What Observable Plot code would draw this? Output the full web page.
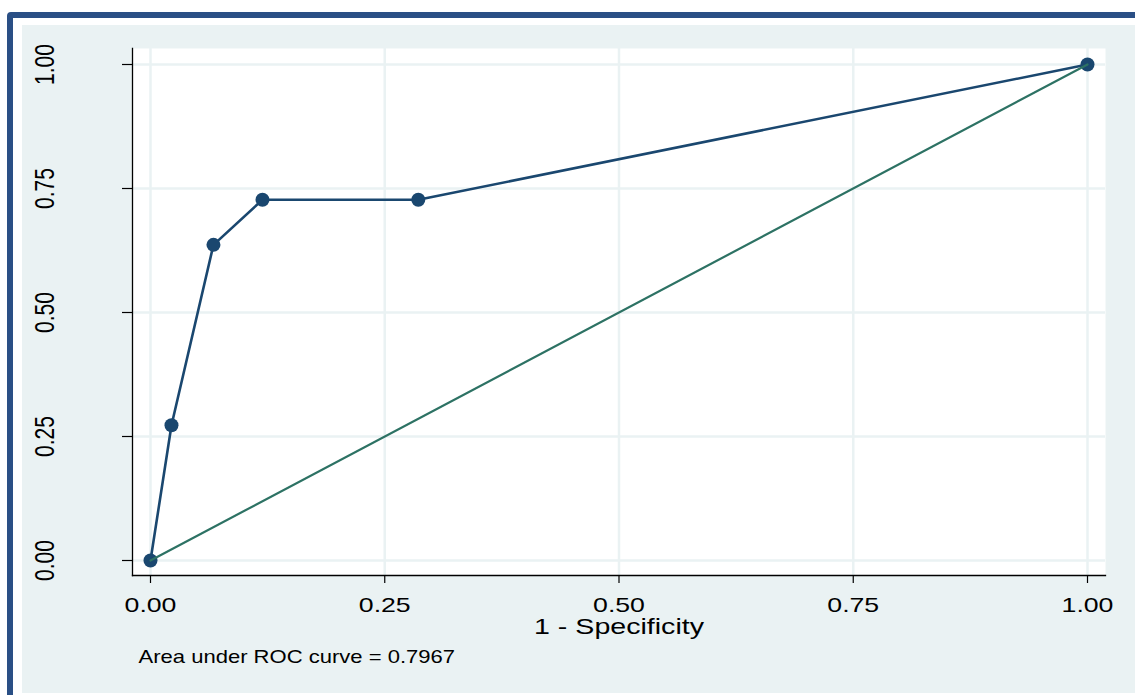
<!DOCTYPE html>
<html><head><meta charset="utf-8">
<script src="https://cdn.jsdelivr.net/npm/d3@7"></script>
<script src="https://cdn.jsdelivr.net/npm/@observablehq/plot@0.6"></script>
<style>
html,body{margin:0;padding:0;background:#fff;overflow:hidden;width:1135px;height:695px;}
#outer{position:absolute;left:7px;top:12px;width:2000px;height:2000px;border:6px solid #2a4f85;border-radius:4px;box-sizing:border-box;}
#bg{position:absolute;left:22px;top:25px;width:1113px;height:668px;background:#eaf2f3;}
#chart{position:absolute;left:0;top:0;}
</style></head><body>
<div id="outer"></div><div id="bg"></div><div id="chart"></div>
<script>
// ROC curve points (1 - specificity, sensitivity)
const fpr = [0, 0.0224, 0.0672, 0.1195, 0.2858, 1];
const tpr = [0, 0.2727, 0.6364, 0.7273, 0.7273, 1];
// reference diagonal
const refX = [0, 1];
const refY = [0, 1];
const tickValues = [0, 0.25, 0.5, 0.75, 1];
const tickLabels = ["0.00", "0.25", "0.50", "0.75", "1.00"];
const xLabel = "1 - Specificity";
const note = "Area under ROC curve = 0.7967";

const rocData = fpr.map((x, i) => ({x, y: tpr[i]}));
const refData = refX.map((x, i) => ({x, y: refY[i]}));

const navy = "#1a476f";
const teal = "#2d7264";
const grid = "#eaf2f3";
const font = "'Liberation Sans', Arial, Helvetica, sans-serif";

const svg = Plot.plot({
  width: 1135, height: 695,
  marginLeft: 132, marginRight: 30, marginTop: 48, marginBottom: 120,
  insetLeft: 18, insetRight: 18, insetTop: 16, insetBottom: 15,
  x: {domain: [0, 1]},
  y: {domain: [0, 1]},
  style: {background: "transparent", fontFamily: font, overflow: "visible", color: "#000"},
  marks: [
    Plot.frame({fill: "white", stroke: "none"}),
    Plot.gridX(tickValues, {stroke: grid, strokeOpacity: 1, strokeWidth: 2.5}),
    Plot.gridY(tickValues, {stroke: grid, strokeOpacity: 1, strokeWidth: 2.5}),
    Plot.frame({anchor: "left", stroke: "#000", strokeWidth: 1.3}),
    Plot.frame({anchor: "bottom", stroke: "#000", strokeWidth: 1.3}),
    Plot.axisX({ticks: tickValues, tickSize: 8, tickFormat: () => "", label: null, strokeWidth: 1.2}),
    Plot.axisY({ticks: tickValues, tickSize: 10, tickFormat: () => "", label: null, strokeWidth: 1.2}),
    Plot.line(rocData, {x: "x", y: "y", stroke: navy, strokeWidth: 2.6}),
    Plot.dot(rocData, {x: "x", y: "y", fill: navy, r: 7, stroke: "none"}),
    Plot.line(refData, {x: "x", y: "y", stroke: teal, strokeWidth: 2.2}),
    Plot.text(tickValues, {x: d => d, text: (d, i) => tickLabels[i], frameAnchor: "bottom", dy: 36, textAnchor: "middle", lineAnchor: "bottom", fontSize: 21, fill: "#000"}),
    Plot.text(tickValues, {y: d => d, text: (d, i) => tickLabels[i], frameAnchor: "left", dx: -87, rotate: -90, textAnchor: "middle", lineAnchor: "middle", fontSize: 21, fill: "#000"}),
    Plot.text([0.5], {x: d => d, text: () => xLabel, frameAnchor: "bottom", dy: 58, textAnchor: "middle", lineAnchor: "bottom", fontSize: 22, fill: "#000"}),
    Plot.text([note], {text: d => d, frameAnchor: "bottom-left", dx: 6, dy: 87, textAnchor: "start", lineAnchor: "bottom", fontSize: 18, fill: "#000"})
  ]
});

function scaleText(t, sx, sy) {
  const tr = t.getAttribute("transform");
  if (tr) t.setAttribute("transform", tr + ` scale(${sx},${sy})`);
  else {
    const x = parseFloat(t.getAttribute("x")) || 0, y = parseFloat(t.getAttribute("y")) || 0;
    t.setAttribute("transform", `translate(${x},${y}) scale(${sx},${sy}) translate(${-x},${-y})`);
  }
}
svg.querySelectorAll("text").forEach(t => {
  const s = t.textContent;
  const tr = t.getAttribute("transform") || "";
  if (tickLabels.includes(s)) {
    if (tr.includes("rotate")) scaleText(t, 1, 1.3);
    else scaleText(t, 1.27, 1);
  } else if (s === xLabel) scaleText(t, 1.3, 1);
  else if (s === note) scaleText(t, 1.225, 1);
});

document.getElementById("chart").appendChild(svg);
</script>
</body></html>
